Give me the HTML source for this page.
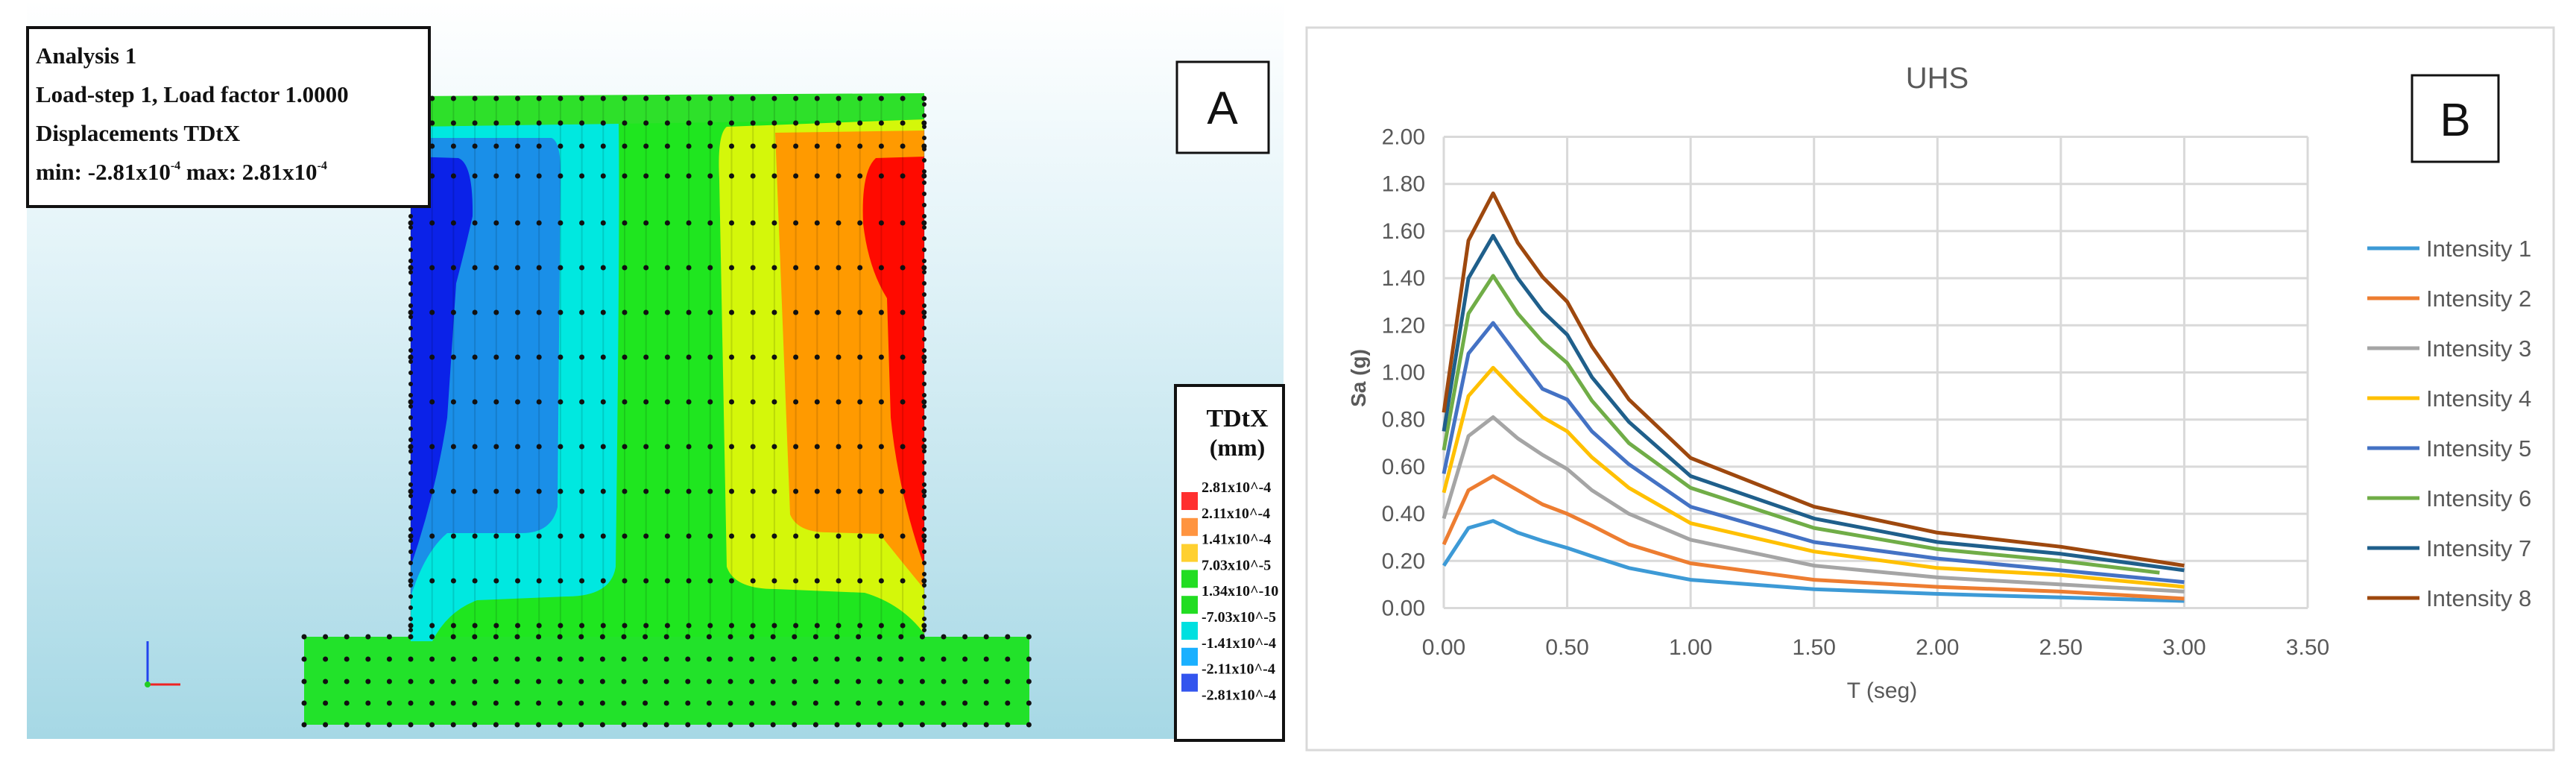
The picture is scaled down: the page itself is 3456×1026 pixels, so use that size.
<!DOCTYPE html>
<html><head><meta charset="utf-8">
<style>
html,body{margin:0;padding:0;background:#fff;}
body{width:3456px;height:1026px;position:relative;overflow:hidden;}
svg{position:absolute;left:0;top:0;}
</style></head>
<body>
<svg id="fig" width="3456" height="1026" viewBox="0 0 3456 1026" xmlns="http://www.w3.org/2000/svg">
<defs>
<linearGradient id="bg" x1="0" y1="0" x2="0" y2="1">
<stop offset="0" stop-color="#ffffff"/>
<stop offset="0.35" stop-color="#e2f3f8"/>
<stop offset="1" stop-color="#a6d8e5"/>
</linearGradient>
</defs>
<g>
<rect x="36" y="0" width="1686" height="991" fill="url(#bg)"/>
<g>
<rect x="551" y="129" width="689" height="725" fill="#1fe61f"/>
<rect x="408" y="854" width="973" height="118" fill="#22e22a"/>
<path d="M551,170 L830,165 Q832,300 826,760 Q820,800 760,800 L640,805 Q600,820 580,860 L551,860 Z" fill="#00e8e0"/>
<path d="M551,185 L740,185 Q752,190 752,230 L748,680 Q740,715 700,715 L600,715 Q570,740 551,800 Z" fill="#1a8fe8"/>
<path d="M551,210 L615,212 Q635,220 634,290 Q625,330 612,380 L600,560 Q585,660 551,760 Z" fill="#0b22e8"/>
<path d="M1240,160 L975,170 Q962,180 965,240 L975,760 Q985,790 1040,790 L1160,795 Q1210,810 1240,850 Z" fill="#d4f70a"/>
<path d="M1240,175 L1040,178 L1060,690 Q1070,714 1110,714 L1180,716 Q1215,760 1240,790 Z" fill="#ff9a00"/>
<path d="M1240,210 L1175,212 Q1155,230 1158,300 Q1165,360 1190,400 L1195,560 Q1205,660 1240,760 Z" fill="#ff0a00"/>
<path d="M551,129 L1240,125 L1240,160 L551,170 Z" fill="#2ee02a"/>
<g id="dots"></g>
</g>
<g stroke-width="3">
<line x1="198" y1="918" x2="198" y2="860" stroke="#2244ee"/>
<line x1="198" y1="918" x2="242" y2="918" stroke="#ee2222"/>
<circle cx="198" cy="918" r="4" fill="#22cc22"/>
</g>
<rect x="37" y="37" width="539" height="240" fill="#fff" stroke="#111" stroke-width="4"/>
<g font-family="'Liberation Serif',serif" font-weight="bold" font-size="31" fill="#111">
<text x="48" y="85">Analysis 1</text>
<text x="48" y="137">Load-step 1, Load factor 1.0000</text>
<text x="48" y="189">Displacements TDtX</text>
<text x="48" y="241">min: -2.81x10<tspan font-size="16" dy="-14">-4</tspan><tspan dy="14"> max: 2.81x10</tspan><tspan font-size="16" dy="-14">-4</tspan></text>
</g>
<rect x="1579" y="83" width="123" height="122" fill="#fff" stroke="#111" stroke-width="3"/>
<text x="1640" y="166" text-anchor="middle" font-family="'Liberation Sans',sans-serif" font-size="62" fill="#111">A</text>
<g>
<rect x="1577" y="517" width="145" height="476" fill="#fff" stroke="#111" stroke-width="4"/>
<text x="1660" y="572" text-anchor="middle" font-family="'Liberation Serif',serif" font-weight="bold" font-size="34" fill="#111">TDtX</text>
<text x="1660" y="611" text-anchor="middle" font-family="'Liberation Serif',serif" font-weight="bold" font-size="32" fill="#111">(mm)</text>
<g id="cbar"></g>
</g>
</g>
<g>
<rect x="1753" y="37" width="1673" height="969" fill="#fff" stroke="#d9d9d9" stroke-width="3"/>
<text x="2599" y="118" text-anchor="middle" font-family="'Liberation Sans',sans-serif" font-size="40" fill="#595959">UHS</text>
<rect x="3236" y="101" width="116" height="116" fill="#fff" stroke="#111" stroke-width="3"/>
<text x="3294" y="182" text-anchor="middle" font-family="'Liberation Sans',sans-serif" font-size="62" fill="#111">B</text>
<g id="grid"></g>
<g id="yticks"></g>
<g id="xticks"></g>
<text transform="translate(1832,507) rotate(-90)" text-anchor="middle" font-family="'Liberation Sans',sans-serif" font-weight="bold" font-size="28" fill="#595959">Sa (g)</text>
<text x="2525" y="936" text-anchor="middle" font-family="'Liberation Sans',sans-serif" font-size="30" fill="#595959">T (seg)</text>
<g id="series"></g>
<g id="legend"></g>
</g>
</svg>
<script>
const NS='http://www.w3.org/2000/svg';
const periods=[0,0.1,0.2,0.3,0.4,0.5,0.6,0.75,1.0,1.5,2.0,2.5,3.0];
const seriesNames=['Intensity 1','Intensity 2','Intensity 3','Intensity 4','Intensity 5','Intensity 6','Intensity 7','Intensity 8'];
const i1=[0.18,0.34,0.37,0.32,0.285,0.255,0.22,0.17,0.12,0.08,0.06,0.045,0.03];
const i2=[0.27,0.50,0.56,0.50,0.44,0.40,0.35,0.27,0.19,0.12,0.09,0.07,0.04];
const i3=[0.38,0.73,0.81,0.72,0.65,0.59,0.50,0.40,0.29,0.18,0.13,0.10,0.07];
const i4=[0.49,0.90,1.02,0.91,0.81,0.75,0.64,0.51,0.36,0.24,0.17,0.14,0.09];
const i5=[0.57,1.08,1.21,1.07,0.93,0.885,0.75,0.61,0.43,0.28,0.21,0.16,0.11];
const i6=[0.67,1.25,1.41,1.25,1.13,1.04,0.88,0.70,0.51,0.34,0.25,0.20,0.15];
const i7=[0.75,1.40,1.58,1.40,1.26,1.16,0.98,0.79,0.56,0.38,0.28,0.23,0.16];
const i8=[0.83,1.56,1.76,1.55,1.405,1.30,1.11,0.885,0.637,0.43,0.32,0.26,0.18];
const i6Periods=[0,0.1,0.2,0.3,0.4,0.5,0.6,0.75,1.0,1.5,2.0,2.5,2.9];
const yTicks=['0.00','0.20','0.40','0.60','0.80','1.00','1.20','1.40','1.60','1.80','2.00'];
const xTicks=['0.00','0.50','1.00','1.50','2.00','2.50','3.00','3.50'];
const colors=['#3d9ad6','#ed7d31','#a5a5a5','#ffc000','#4472c4','#70ad47','#1f5f8b','#9e480e'];
const allSeries=[i1,i2,i3,i4,i5,i6,i7,i8];
const X0=1937,X1=3096,Y0=815.5,Y1=183.5;
const xs=v=>X0+(v/3.5)*(X1-X0);
const ys=v=>Y0-(v/2.0)*(Y0-Y1);
function mk(tag,attrs,parent){const e=document.createElementNS(NS,tag);for(const k in attrs)e.setAttribute(k,attrs[k]);parent.appendChild(e);return e;}
const grid=document.getElementById('grid');
yTicks.forEach(t=>{const v=parseFloat(t);
 const l=mk('line',{x1:X0,x2:X1,y1:ys(v),y2:ys(v),stroke:'#d9d9d9','stroke-width':3},grid);
 
 
 const tx=mk('text',{x:1912,y:ys(v)+10,'text-anchor':'end','font-family':"'Liberation Sans',sans-serif",'font-size':30,fill:'#595959'},document.getElementById('yticks'));
 tx.textContent=t;
 
 
});
xTicks.forEach(t=>{const v=parseFloat(t);
 const l=mk('line',{x1:xs(v),x2:xs(v),y1:Y1,y2:Y0,stroke:'#d9d9d9','stroke-width':3},grid);
 
 
 const tx=mk('text',{x:xs(v),y:878,'text-anchor':'middle','font-family':"'Liberation Sans',sans-serif",'font-size':30,fill:'#595959'},document.getElementById('xticks'));
 tx.textContent=t;
 
 
});
const sg=document.getElementById('series');
allSeries.forEach((vals,i)=>{const px=(i===5)?i6Periods:periods;
 const d=vals.map((v,j)=>(j?'L':'M')+xs(px[j]).toFixed(1)+','+ys(v).toFixed(1)).join(' ');
 const p=mk('path',{d:d,fill:'none',stroke:colors[i],'stroke-width':5,'stroke-linejoin':'round'},sg);
 
 
});
const lg=document.getElementById('legend');
seriesNames.forEach((n,i)=>{const y=333+67*i;
 const l=mk('line',{x1:3176,x2:3246,y1:y,y2:y,stroke:colors[i],'stroke-width':5},lg);
 
 
 const t=mk('text',{x:3255,y:y+11,'font-family':"'Liberation Sans',sans-serif",'font-size':31,fill:'#595959'},lg);
 t.textContent=n;
 
 
});
const dots=document.getElementById('dots');
const wallRows=[132,165,196,236];for(let y=299;y<=850;y+=60)wallRows.push(y);
for(let c=0;c<=24;c++){const x=551+c*28.7;
 mk('line',{x1:x,x2:x,y1:129,y2:854,stroke:'rgba(0,0,0,0.12)','stroke-width':2},dots);
 wallRows.forEach(y=>mk('circle',{cx:x,cy:y,r:3.5,fill:'#111'},dots));}
for(let y=140;y<850;y+=15)mk('circle',{cx:551,cy:y,r:3,fill:'#111'},dots);
for(let y=140;y<850;y+=15)mk('circle',{cx:1240,cy:y,r:3,fill:'#111'},dots);
for(let c=0;c<=34;c++){const x=408+c*28.6;
 [854,884,914,943,972].forEach(y=>mk('circle',{cx:x,cy:y,r:3.5,fill:'#111'},dots));}
const cb=document.getElementById('cbar');
const cbColors=['#ff3030','#ff9440','#ffd030','#22dd22','#22dd22','#00e0e0','#1ab0ff','#3355ee'];
const cbLabels=['2.81x10^-4','2.11x10^-4','1.41x10^-4','7.03x10^-5','1.34x10^-10','-7.03x10^-5','-1.41x10^-4','-2.11x10^-4','-2.81x10^-4'];
cbColors.forEach((c,i)=>{const r=mk('rect',{x:1585,y:660+34.8*i,width:22,height:24,fill:c},cb);
 
 });
cbLabels.forEach((s,i)=>{const t=mk('text',{x:1612,y:660+34.8*i,'font-family':"'Liberation Serif',serif",'font-weight':'bold','font-size':20,fill:'#111'},cb);
 t.textContent=s;
 
 });
</script>
</body></html>
